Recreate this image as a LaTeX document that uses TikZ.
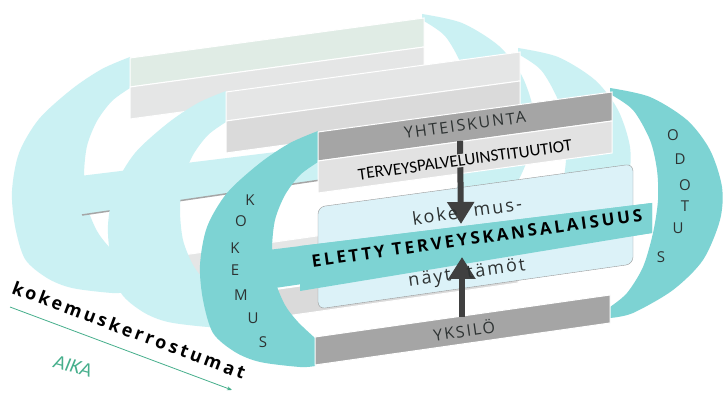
\documentclass[tikz,border=0pt]{standalone}
\usepackage{fontspec}
\setmainfont{Open Sans}
\newfontfamily\harva[LetterSpace=12]{Open Sans}
\newfontfamily\harvempi[LetterSpace=17]{Open Sans}
\newfontfamily\kapea{Carlito}
\usetikzlibrary{arrows.meta}

\definecolor{kokteal}{RGB}{125,211,211}
\definecolor{vaaleasyaani}{RGB}{203,241,243}
\definecolor{vaaleavihrea}{RGB}{224,236,229}
\definecolor{vaaleanharmaa}{RGB}{229,230,230}
\definecolor{harmaapalkki}{RGB}{165,165,165}
\definecolor{keskipalkki}{RGB}{226,226,226}
\definecolor{laatikko}{RGB}{220,242,248}
\definecolor{tummanuoli}{RGB}{64,64,64}
\definecolor{tekstiharmaa}{RGB}{45,50,50}
\definecolor{aikavihrea}{RGB}{70,175,140}

% yksi kerros: #1 sirppi, #2 ylapalkki, #3 keskipalkki, #4 laatikko, #5 vyo, #6 alapalkki, #7 vyon reuna
\newcommand{\kerros}[7]{%
    \fill[#1] plot[smooth] coordinates {(318,131) (290,143) (260,163) (227,193) (207,227) (200,265) (203,300) (213,333) (235,352) (260,362) (300,367) (315,366)}
        -- plot[smooth] coordinates {(315,338) (298,322) (285,305) (275,280) (272,250) (275,220) (285,195) (300,175) (318,162)} -- cycle;
    \fill[#1] plot[smooth] coordinates {(610,88) (650,97) (687,120) (710,150) (722,187) (720,220) (703,260) (673,290) (633,313) (610,318)}
        -- plot[smooth] coordinates {(610,307) (627,293) (643,267) (653,233) (658,200) (657,170) (650,140) (633,110) (610,94)} -- cycle;
    \fill[#4, rounded corners=7pt] (318,207) -- (633,164) -- (633,264) -- (318,309) -- cycle;
    \filldraw[fill=#2, draw=white, line width=1pt] (318,132) -- (612,92) -- (612,121) -- (318,161) -- cycle;
    \filldraw[fill=#3, draw=white, line width=1pt] (318,161) -- (612,121) -- (612,153) -- (318,193) -- cycle;
    \fill[#5] (268,250) -- (652,203) -- (652,233) -- (268,289) -- cycle;
    \draw[#7, line width=1.5pt] (270,289) -- (652,233);
    \filldraw[fill=#6, draw=white, line width=1pt] (315,337) -- (610,295) -- (610,323) -- (315,365) -- cycle;
}

\begin{document}
\begin{tikzpicture}[x=1pt, y=-1pt,
    kirjain/.style={font=\fontsize{15}{15}\selectfont, text=tekstiharmaa, inner sep=1pt},
    paksunuoli/.style={line width=6pt, tummanuoli, -{Triangle[width=26pt, length=22pt]}}]
    \fill[white] (0,0) rectangle (724,393);

    % takimmaiset kerrostumat
    \begin{scope}[shift={(-188,-74)}]
        \kerros{vaaleasyaani}{vaaleavihrea}{vaaleanharmaa}{opacity=0}{vaaleasyaani}{vaaleanharmaa}{gray!70}
    \end{scope}
    \begin{scope}[shift={(-92,-40)}]
        \kerros{vaaleasyaani}{vaaleanharmaa}{vaaleanharmaa!95!black}{opacity=0}{opacity=0}{vaaleanharmaa!95!black}{opacity=0}
    \end{scope}

    % etummainen kerros
    \kerros{kokteal}{harmaapalkki}{keskipalkki}{laatikko}{kokteal}{harmaapalkki}{opacity=0}
    \draw[gray!80, rounded corners=7pt] (318,207) -- (633,164) -- (633,264) -- (318,309) -- cycle;
    \fill[kokteal] (300,246) -- (652,203) -- (652,233) -- (300,291) -- cycle;

    \coordinate (alasalku) at (460,141);
    \coordinate (alaskarki) at (461,224);
    \coordinate (ylosalku) at (462,317);
    \coordinate (yloskarki) at (462,257);
    \draw[paksunuoli] (alasalku) -- (alaskarki);
    \draw[paksunuoli] (ylosalku) -- (yloskarki);

    \node[rotate=7.8, text=tekstiharmaa, inner sep=1pt] (yhteiskunta) at (465,125) {\harva\fontsize{16}{16}\selectfont YHTEISKUNTA};
    \node[rotate=7.8, fill=keskipalkki, inner sep=1pt] (instituutiot) at (465,160) {\kapea\fontsize{17}{17}\selectfont TERVEYSPALVELUINSTITUUTIOT};
    \node[rotate=8, text=tekstiharmaa, inner sep=1pt] (kokemusyla) at (467,211) {\harva\fontsize{18}{18}\selectfont koke\hspace{16pt}mus-};
    \node[rotate=8, text=black, inner sep=1pt] (eletty) at (477,238) {\harvempi\bfseries\fontsize{17}{17}\selectfont ELETTY TERVEYSKANSALAISUUS};
    \node[rotate=8, text=tekstiharmaa, inner sep=1pt] (nayttamot) at (467,274) {\harva\fontsize{18}{18}\selectfont näyt\hspace{16pt}tämöt};
    \node[rotate=8, text=tekstiharmaa, inner sep=1pt] (yksilo) at (464,330) {\harva\fontsize{16}{16}\selectfont YKSILÖ};

    \foreach \kir/\px/\py [count=\i] in {K/250/200, O/241/221, K/235/248, E/235/270, M/241/295, U/253/318, S/263/342}
        \node[kirjain] (kokemus\i) at (\px,\py) {\kir};
    \foreach \kir/\px/\py [count=\i] in {O/673/135, D/680/159, O/685/185, T/685/206, U/678/228, S/661/257}
        \node[kirjain] (odotus\i) at (\px,\py) {\kir};

    \node[rotate=-20.5, inner sep=1pt] (kerrostumat) at (129,330) {\harvempi\bfseries\fontsize{18}{18}\selectfont kokemuskerrostumat};
    \coordinate (aikaalku) at (10,307);
    \coordinate (aikaloppu) at (232,390);
    \draw[aikavihrea, line width=0.8pt, -{Stealth[length=5pt]}] (aikaalku) -- (aikaloppu);
    \node[rotate=-15, text=aikavihrea, inner sep=1pt] (aika) at (73,366) {\kapea\itshape\fontsize{20}{20}\selectfont AIKA};
\end{tikzpicture}
\end{document}
